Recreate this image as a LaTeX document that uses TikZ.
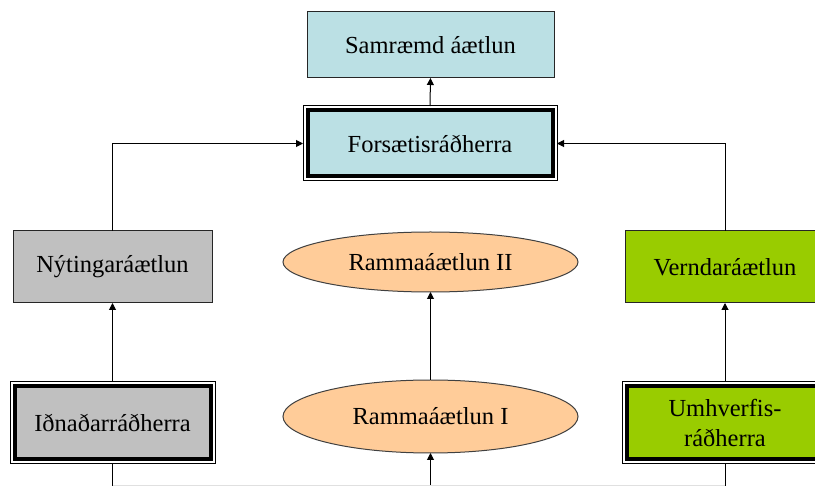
\documentclass[tikz,border=0pt]{standalone}
\usepackage{fontspec}
\setmainfont{Liberation Serif}
\usetikzlibrary{shapes.geometric,arrows.meta}
\definecolor{lblue}{RGB}{187,224,228}
\definecolor{lgray}{RGB}{192,192,192}
\definecolor{lgreen}{RGB}{153,204,0}
\definecolor{lorange}{RGB}{255,204,153}
\tikzset{
  txt/.style={font=\fontsize{24.5}{30}\selectfont, align=center, text=black},
  plainbox/.style={txt, draw=black!85, line width=1pt, rectangle, inner sep=0pt, outer sep=0pt},
  outerbox/.style={draw=black, line width=1pt, rectangle, inner sep=0pt, outer sep=0pt, fill=white},
  innerbox/.style={txt, draw=black, line width=4pt, rectangle, inner sep=0pt, outer sep=0pt},
  oval/.style={txt, ellipse, draw=black!75, line width=1pt, fill=lorange, inner sep=0pt, outer sep=0pt},
  conn/.style={line width=1pt, draw=black},
  arr/.style={conn, -{Triangle[length=7pt,width=7pt]}},
}
\begin{document}
\begin{tikzpicture}[x=1pt,y=-1pt]
\useasboundingbox (0,0) rectangle (815,486);
\clip (0,0) rectangle (815,486);
\fill[white] (0,0) rectangle (815,486);
% top box
\node[plainbox, fill=lblue, minimum width=247pt, minimum height=66pt] (sam) at (430.5,45) {Samræmd áætlun};
% Forsaetis
\node[outerbox, minimum width=254pt, minimum height=75pt] (fors) at (430,143.5) {};
\node[innerbox, fill=lblue, minimum width=245pt, minimum height=66pt] (forsT) at (430,143.5) {Forsætisráðherra};
% middle row
\node[plainbox, fill=lgray, minimum width=199pt, minimum height=72pt] (nyt) at (112.5,267) {Nýtingaráætlun};
\node[oval, minimum width=295pt, minimum height=60pt] (ram2) at (430.5,262) {Rammaáætlun II};
\node[plainbox, fill=lgreen, minimum width=199pt, minimum height=72pt] (vernd) at (725,267) {Verndaráætlun};
% bottom row
\node[outerbox, minimum width=205pt, minimum height=82pt] (idn) at (112.5,423) {};
\node[innerbox, fill=lgray, minimum width=196pt, minimum height=73pt] (idnT) at (112.5,423) {Iðnaðarráðherra};
\node[oval, minimum width=295pt, minimum height=73pt] (ram1) at (430.5,416.5) {Rammaáætlun I};
\node[outerbox, minimum width=205pt, minimum height=82pt] (umh) at (725,423) {};
\node[innerbox, fill=lgreen, minimum width=196pt, minimum height=73pt] (umhT) at (725,423) {Umhverfis-\\ráðherra};
% bottom coordinates
\coordinate (b1) at (112.5,486);
\coordinate (b2) at (430.5,486);
\coordinate (b3) at (725,486);
\coordinate (h1) at (112.5,485.3);
\coordinate (h3) at (725,485.3);
% connectors
\draw[arr] (fors.north) -- (sam.south);
\draw[arr] (nyt.north) |- (fors.west);
\draw[arr] (vernd.north) |- (fors.east);
\draw[arr] (idn.north) -- (nyt.south);
\draw[arr] (ram1.north) -- (ram2.south);
\draw[arr] (umh.north) -- (vernd.south);
\draw[conn] (idn.south) -- (b1);
\draw[conn] (umh.south) -- (b3);
\draw[arr] (b2) -- (ram1.south);
\draw[line width=1pt, draw=black!12] (h1) -- (h3);
\end{tikzpicture}
\end{document}
